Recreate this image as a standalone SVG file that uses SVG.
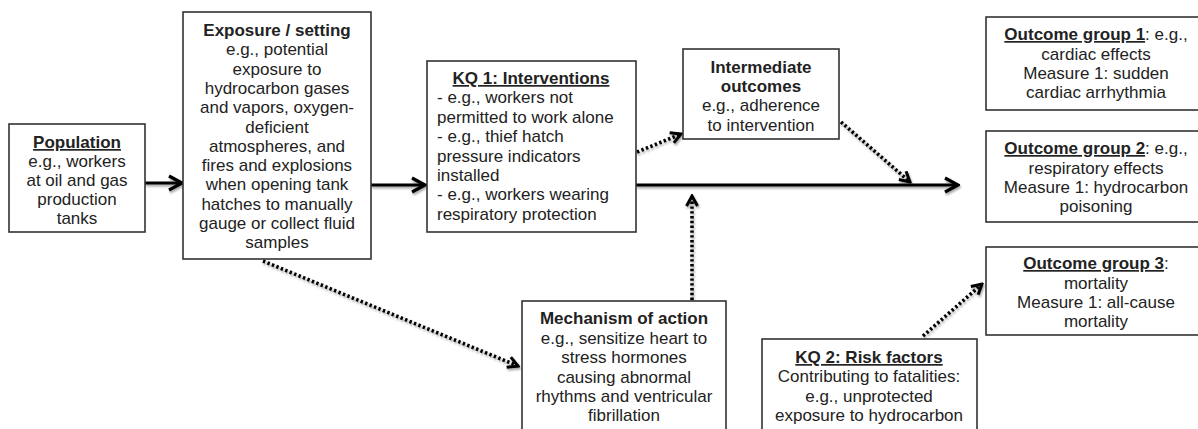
<svg xmlns="http://www.w3.org/2000/svg" width="1198" height="429" viewBox="0 0 1198 429">
<style>
text{font-family:"Liberation Sans",Arial,sans-serif;font-size:17px;fill:#222;}
.c{text-anchor:middle;}
.b{font-weight:bold;}
.u{text-decoration:underline;}
.box{fill:#fff;stroke:#333;stroke-width:1.6;}
.solid{fill:none;stroke:#000;stroke-width:3.2;}
.dot{fill:none;stroke:#000;stroke-width:3.6;stroke-dasharray:2.4 2.4;}
</style>
<defs>
<filter id="sh" x="-20%" y="-20%" width="140%" height="140%">
<feDropShadow dx="1" dy="2" stdDeviation="1.3" flood-color="#000" flood-opacity="0.35"/>
</filter>
<marker id="ah" viewBox="0 0 18 18" refX="16" refY="9" markerWidth="18" markerHeight="18" markerUnits="userSpaceOnUse" orient="auto">
<path d="M3,2 L16,9 L3,16" fill="none" stroke="#000" stroke-width="3.2" stroke-linejoin="miter"/>
</marker>
<marker id="ad" viewBox="0 0 14 14" refX="12" refY="7" markerWidth="14" markerHeight="14" markerUnits="userSpaceOnUse" orient="auto">
<path d="M2,1.5 L12,7 L2,12.5" fill="none" stroke="#000" stroke-width="3" stroke-linejoin="miter"/>
</marker>
</defs>

<g id="connectors" filter="url(#sh)">
<line class="solid" x1="145" y1="183" x2="182" y2="183" marker-end="url(#ah)"/>
<line class="solid" x1="371" y1="185" x2="425" y2="185" marker-end="url(#ah)"/>
<line class="solid" x1="636" y1="185" x2="958" y2="185" marker-end="url(#ah)"/>
<line class="dot" x1="637" y1="152" x2="681" y2="134" marker-end="url(#ad)"/>
<line class="dot" x1="841" y1="122" x2="910" y2="182" marker-end="url(#ad)"/>
<line class="dot" x1="692" y1="300" x2="692" y2="196" marker-end="url(#ad)"/>
<line class="dot" x1="263" y1="261" x2="518" y2="366" marker-end="url(#ad)"/>
<line class="dot" x1="923" y1="336" x2="982" y2="284" marker-end="url(#ad)"/>
</g>

<g id="population">
<rect class="box" x="9" y="124" width="136" height="108"/>
<text class="c b u" x="77" y="148">Population</text>
<text class="c" x="77" y="167">e.g., workers</text>
<text class="c" x="77" y="186">at oil and gas</text>
<text class="c" x="77" y="205">production</text>
<text class="c" x="77" y="224">tanks</text>
</g>

<g id="exposure">
<rect class="box" x="183" y="12" width="188" height="247"/>
<text class="c b" x="277" y="36">Exposure / setting</text>
<text class="c" x="277" y="55.3">e.g., potential</text>
<text class="c" x="277" y="74.6">exposure to</text>
<text class="c" x="277" y="93.9">hydrocarbon gases</text>
<text class="c" x="277" y="113.2">and vapors, oxygen-</text>
<text class="c" x="277" y="132.5">deficient</text>
<text class="c" x="277" y="151.8">atmospheres, and</text>
<text class="c" x="277" y="171.1">fires and explosions</text>
<text class="c" x="277" y="190.4">when opening tank</text>
<text class="c" x="277" y="209.7">hatches to manually</text>
<text class="c" x="277" y="229">gauge or collect fluid</text>
<text class="c" x="277" y="248.3">samples</text>
</g>

<g id="kq1">
<rect class="box" x="427" y="61" width="209" height="171"/>
<text class="c b u" x="531" y="84">KQ 1: Interventions</text>
<text x="437" y="103.4">- e.g., workers not</text>
<text x="437" y="122.8">permitted to work alone</text>
<text x="437" y="142.2">- e.g., thief hatch</text>
<text x="437" y="161.6">pressure indicators</text>
<text x="437" y="181">installed</text>
<text x="437" y="200.4">- e.g., workers wearing</text>
<text x="437" y="219.8">respiratory protection</text>
</g>

<g id="intermediate">
<rect class="box" x="683" y="49" width="156" height="90"/>
<text class="c b" x="761" y="73">Intermediate</text>
<text class="c b" x="761" y="92">outcomes</text>
<text class="c" x="761" y="111">e.g., adherence</text>
<text class="c" x="761" y="131">to intervention</text>
</g>

<g id="mechanism">
<rect class="box" x="522" y="301" width="204" height="140"/>
<text class="c b" x="624" y="324">Mechanism of action</text>
<text class="c" x="624" y="344">e.g., sensitize heart to</text>
<text class="c" x="624" y="363">stress hormones</text>
<text class="c" x="624" y="383">causing abnormal</text>
<text class="c" x="624" y="402">rhythms and ventricular</text>
<text class="c" x="624" y="421">fibrillation</text>
</g>

<g id="outcome1">
<rect class="box" x="986" y="17" width="222" height="93"/>
<text class="c" x="1096" y="40"><tspan class="b u">Outcome group 1</tspan>: e.g.,</text>
<text class="c" x="1096" y="60">cardiac effects</text>
<text class="c" x="1096" y="79">Measure 1: sudden</text>
<text class="c" x="1096" y="98">cardiac arrhythmia</text>
</g>

<g id="outcome2">
<rect class="box" x="986" y="131" width="222" height="91"/>
<text class="c" x="1096" y="154"><tspan class="b u">Outcome group 2</tspan>: e.g.,</text>
<text class="c" x="1096" y="174">respiratory effects</text>
<text class="c" x="1096" y="193">Measure 1: hydrocarbon</text>
<text class="c" x="1096" y="212">poisoning</text>
</g>

<g id="outcome3">
<rect class="box" x="986" y="247" width="222" height="88"/>
<text class="c" x="1096" y="269"><tspan class="b u">Outcome group 3</tspan>:</text>
<text class="c" x="1096" y="289">mortality</text>
<text class="c" x="1096" y="308">Measure 1: all-cause</text>
<text class="c" x="1096" y="327">mortality</text>
</g>

<g id="kq2">
<rect class="box" x="762" y="339" width="215" height="100"/>
<text class="c b u" x="869" y="363">KQ 2: Risk factors</text>
<text class="c" x="869" y="382">Contributing to fatalities:</text>
<text class="c" x="869" y="402">e.g., unprotected</text>
<text class="c" x="869" y="421">exposure to hydrocarbon</text>
</g>
</svg>
